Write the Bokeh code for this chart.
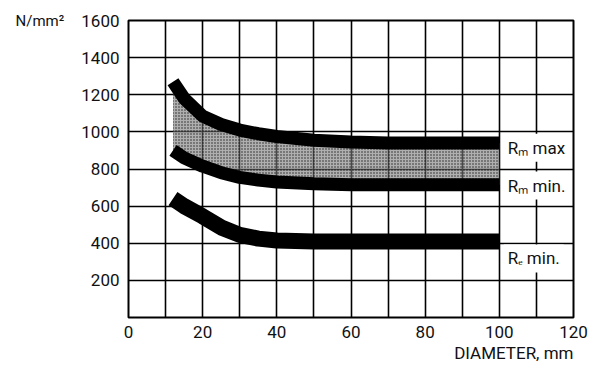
from bokeh.plotting import figure
from bokeh.models import FixedTicker, Label, ColumnDataSource, Title
from bokeh.embed import file_html
from bokeh.resources import INLINE

# ---- data ----
diameter = [12, 15, 20, 25, 30, 35, 40, 50, 60, 70, 80, 90, 100]
rm_max = [1270, 1180, 1085, 1040, 1010, 990, 975, 955, 945, 940, 940, 940, 940]
rm_min = [900, 860, 815, 780, 755, 740, 730, 720, 715, 715, 715, 715, 715]
re_min = [640, 600, 545, 485, 445, 425, 415, 410, 410, 410, 410, 410, 410]

x_ticks = [0, 20, 40, 60, 80, 100, 120]
y_ticks = [200, 400, 600, 800, 1000, 1200, 1400, 1600]
series_labels = ["R\u2098 max", "R\u2098 min.", "R\u2091 min."]
series_label_y = [915, 711, 318]

FONT = "Roboto"

src = ColumnDataSource(dict(d=diameter, rmax=rm_max, rmin=rm_min, remin=re_min))

p = figure(width=589, height=368, x_range=(0, 120), y_range=(0, 1600),
           output_backend="svg", toolbar_location=None,
           min_border_left=128, min_border_right=16,
           min_border_top=20, min_border_bottom=51)

p.background_fill_color = "white"
p.border_fill_color = "white"
p.outline_line_color = "black"
p.outline_line_width = 2

# grid
p.xgrid.ticker = FixedTicker(ticks=list(range(0, 121, 10)))
p.ygrid.ticker = FixedTicker(ticks=list(range(0, 1601, 200)))
for g in (p.xgrid, p.ygrid):
    g.grid_line_color = "black"
    g.grid_line_width = 1.6
    g.grid_line_alpha = 1.0

# axes
p.xaxis.ticker = FixedTicker(ticks=x_ticks)
p.yaxis.ticker = FixedTicker(ticks=y_ticks)
for ax in (p.xaxis, p.yaxis):
    ax.axis_line_color = None
    ax.major_tick_line_color = None
    ax.minor_tick_line_color = None
    ax.major_tick_out = 0
    ax.major_tick_in = 0
    ax.major_label_text_font = FONT
    ax.major_label_text_font_size = "17px"
    ax.major_label_text_color = "#111111"
    ax.axis_label_text_font = FONT
    ax.axis_label_text_font_size = "15px"
    ax.axis_label_text_font_style = "normal"
    ax.axis_label_text_color = "#111111"
p.xaxis.major_label_standoff = 8
p.yaxis.major_label_standoff = 9

p.yaxis.axis_label = "N/mm\u00b2"
p.yaxis.axis_label_orientation = "horizontal"
p.yaxis.axis_label_standoff = 14
p.yaxis.axis_label_text_baseline = "middle"
try:
    p.yaxis.axis_label_align = "end"
except Exception:
    pass

# x-axis title, right aligned under the frame
p.add_layout(Title(text="DIAMETER, mm", align="right", text_font=FONT,
                   text_font_size="17px", text_font_style="normal",
                   text_color="#111111", standoff=0), "below")

# stippled area between Rm min and Rm max
p.varea(x="d", y1="rmin", y2="rmax", source=src, fill_color="#7a7a7a",
        fill_alpha=0.6, hatch_pattern=".", hatch_color="black",
        hatch_scale=3, hatch_alpha=0.8)

# thick curves
p.line(x="d", y="rmax", source=src, line_color="black", line_width=13,
       line_cap="butt", line_join="round")
p.line(x="d", y="rmin", source=src, line_color="black", line_width=13,
       line_cap="butt", line_join="round")
p.line(x="d", y="remin", source=src, line_color="black", line_width=16,
       line_cap="butt", line_join="round")

# series labels with white boxes
for txt, yv in zip(series_labels, series_label_y):
    p.add_layout(Label(x=101.2, y=yv, text=txt, text_font=FONT,
                       text_font_size="17px", text_baseline="middle",
                       text_color="#111111",
                       background_fill_color="white", padding=4))

open("out.html", "w").write(file_html(p, INLINE))
